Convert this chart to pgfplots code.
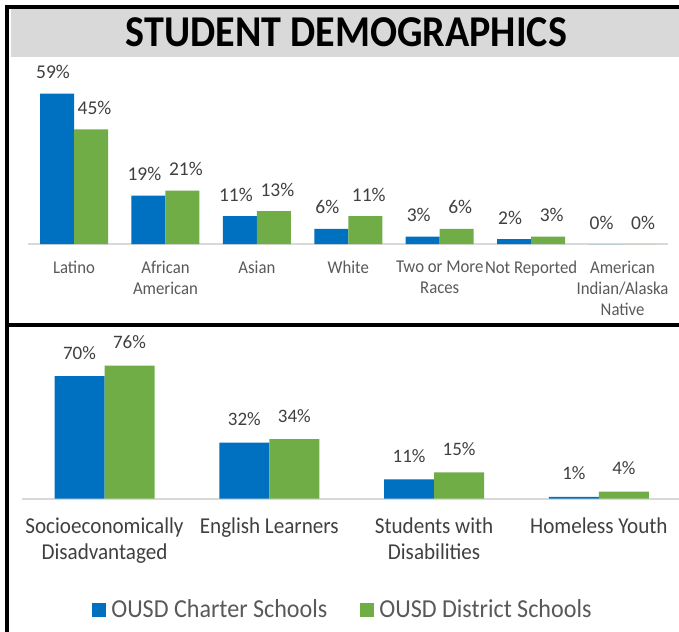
\documentclass[border=0pt]{standalone}
\usepackage{fontspec}
\setmainfont{Carlito}
\newfontfamily\cf[FakeStretch=0.93]{Carlito}
\newfontfamily\ct[FakeStretch=0.91]{Carlito}
\usepackage{pgfplots}
\pgfplotsset{compat=1.18}
\definecolor{cblue}{HTML}{0070C0}
\definecolor{cgreen}{HTML}{70AD47}
\definecolor{cax}{HTML}{D9D9D9}
\definecolor{ctxt}{HTML}{595959}
\definecolor{clab}{HTML}{404040}
\begin{document}
\begin{tikzpicture}
\fill[white] (0,0) rectangle (679bp,632bp);
\fill[cax] (11bp,575bp) rectangle (679bp,623bp);
\node[font=\ct\bfseries\fontsize{44bp}{50bp}\selectfont, anchor=base, inner sep=0pt] at (346.5bp,585.7bp) {STUDENT DEMOGRAPHICS};
\draw[black, line width=4bp] (7bp,0bp) -- (7bp,627bp);
\draw[black, line width=4bp] (5bp,625bp) -- (679bp,625bp);
\draw[black, line width=4bp] (5bp,307bp) -- (679bp,307bp);

% top panel
\begin{axis}[
  at={(28.3bp,387.8bp)}, anchor=south west, scale only axis,
  width=640bp, height=153bp,
  xmin=-0.5, xmax=6.5, ymin=0, ymax=60,
  ybar=0pt, bar width=34bp,
  axis x line=bottom, axis y line=none,
  x axis line style={-, draw=cax, line width=2bp},
  xtick={0,...,6},
  xticklabels={Latino,{African\\American},Asian,White,{Two or More\\Races},Not Reported,{American\\Indian/Alaska\\Native}},
  xtick style={draw=none}, major tick length=0pt, ytick=\empty,
  xticklabel style={align=center, font=\cf\fontsize{18bp}{21bp}\selectfont, text=ctxt, anchor=north, inner sep=0pt, yshift=-16.5bp},
  clip=false,
  /pgf/number format/assume math mode=true,
  nodes near coords={\pgfmathprintnumber{\pgfplotspointmeta}\%},
  every node near coord/.append style={font=\fontsize{19.5bp}{22bp}\selectfont, text=clab, anchor=base, inner sep=0pt, yshift=15bp},
]
\addplot[fill=cblue, draw=none, every node near coord/.append style={xshift=-4bp}] coordinates {(0,59) (1,19) (2,11) (3,6) (4,3) (5,2) (6,0)};
\addplot[fill=cgreen, draw=none, every node near coord/.append style={xshift=3.5bp}] coordinates {(0,45) (1,21) (2,13) (3,11) (4,6) (5,3) (6,0)};
\end{axis}

% bottom panel
\begin{axis}[
  at={(22.1bp,133.3bp)}, anchor=south west, scale only axis,
  width=659.2bp, height=140bp,
  xmin=-0.5, xmax=3.5, ymin=0, ymax=80,
  ybar=0pt, bar width=50bp,
  axis x line=bottom, axis y line=none,
  x axis line style={-, draw=cax, line width=2bp},
  xtick={0,...,3},
  xticklabels={{Socioeconomically\\Disadvantaged},English Learners,{Students with\\Disabilities},Homeless Youth},
  xtick style={draw=none}, major tick length=0pt, ytick=\empty,
  xticklabel style={align=center, font=\cf\fontsize{22.7bp}{26bp}\selectfont, text=clab, anchor=north, inner sep=0pt, yshift=-18.4bp},
  clip=false,
  /pgf/number format/assume math mode=true,
  nodes near coords={\pgfmathprintnumber{\pgfplotspointmeta}\%},
  every node near coord/.append style={font=\fontsize{19bp}{22bp}\selectfont, text=clab, anchor=base, inner sep=0pt, yshift=17bp},
  legend columns=2,
  legend cell align=left,
  legend style={at={(0.1065,-0.795)}, anchor=west, draw=none, fill=none, inner sep=0pt, outer sep=0pt,
    /tikz/every even column/.append style={column sep=33bp},
    nodes={inner sep=0pt, text=ctxt, font=\cf\fontsize{25.9bp}{30bp}\selectfont, text height=16bp, text depth=0pt}},
]
\addplot[fill=cblue, draw=none, legend image code/.code={\fill[cblue] (0bp,-7bp) rectangle (14bp,7bp); \path (19bp,0bp);}] coordinates {(0,70) (1,32) (2,11) (3,1)};
\addlegendentry{OUSD Charter Schools}
\addplot[fill=cgreen, draw=none, legend image code/.code={\fill[cgreen] (0bp,-7bp) rectangle (14bp,7bp); \path (19bp,0bp);}] coordinates {(0,76) (1,34) (2,15) (3,4)};
\addlegendentry{OUSD District Schools}
\end{axis}
\pgfresetboundingbox
\path[use as bounding box] (0,0) rectangle (679bp,632bp);
\end{tikzpicture}
\end{document}
